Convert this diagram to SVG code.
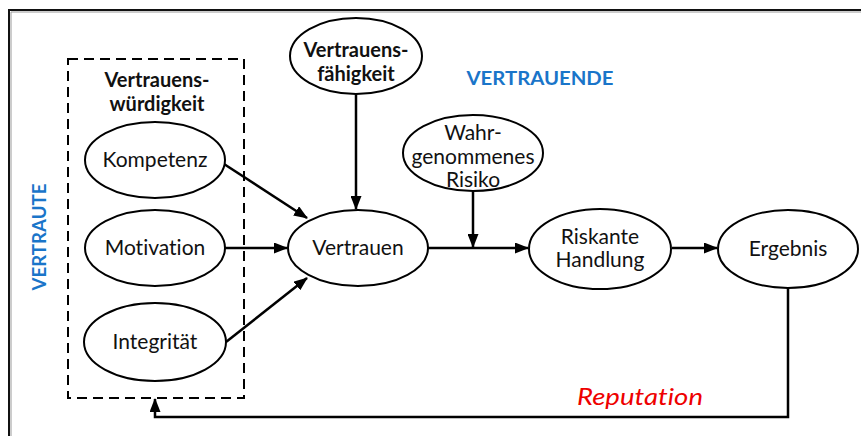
<svg xmlns="http://www.w3.org/2000/svg" width="861" height="436" viewBox="0 0 861 436">
<style>
text{font-variant-ligatures:none}
.n ellipse{fill:#fff;stroke:#000;stroke-width:2}
.t{font-family:Lato,"Open Sans",sans-serif;font-size:21px;fill:#111;text-anchor:middle}
.b{font-weight:700;font-size:20px}
.c line,.c path{stroke:#000;stroke-width:2.5;fill:none}
.lbl{font-family:Lato,"Open Sans",sans-serif;font-weight:700;font-size:18px;fill:#1a75c9;text-anchor:middle}
</style>
<defs>
<marker id="ah" viewBox="0 0 14 11" refX="13" refY="5.5" markerWidth="14" markerHeight="11" markerUnits="userSpaceOnUse" orient="auto">
<path d="M0,0 L14,5.5 L0,11 Z" fill="#000"/>
</marker>
</defs>
<rect width="861" height="436" fill="#fff"/>
<path d="M10,440 V11 H870" fill="none" stroke="#999" stroke-width="1" transform="translate(1,1)"/>
<path d="M9,440 V10 H870" fill="none" stroke="#111" stroke-width="2"/>
<rect id="box" x="68" y="59" width="176" height="339" fill="none" stroke="#000" stroke-width="2" stroke-dasharray="10,6"/>
<g class="c" id="connectors">
<line x1="224" y1="164" x2="307" y2="218" marker-end="url(#ah)"/>
<line x1="225" y1="248" x2="287" y2="248" marker-end="url(#ah)"/>
<line x1="226" y1="342" x2="307" y2="278" marker-end="url(#ah)"/>
<line x1="356" y1="93" x2="356" y2="209" marker-end="url(#ah)"/>
<line x1="428" y1="248" x2="528" y2="248" marker-end="url(#ah)"/>
<line x1="473" y1="192" x2="473" y2="247" marker-end="url(#ah)"/>
<line x1="672" y1="248" x2="717" y2="248" marker-end="url(#ah)"/>
<path d="M788,288 V417 H155 V399" marker-end="url(#ah)"/>
</g>
<g class="n" id="n-wuerdigkeit">
<text class="t b" x="157" y="87">Vertrauens-<tspan x="157" dy="24">würdigkeit</tspan></text>
</g>
<g class="n" id="n-kompetenz">
<ellipse cx="155" cy="160" rx="70" ry="38"/>
<text class="t" x="155" y="167">Kompetenz</text>
</g>
<g class="n" id="n-motivation">
<ellipse cx="155" cy="248" rx="70" ry="38"/>
<text class="t" x="155" y="255">Motivation</text>
</g>
<g class="n" id="n-integritaet">
<ellipse cx="155" cy="342" rx="71" ry="39"/>
<text class="t" x="155" y="349">Integrität</text>
</g>
<g class="n" id="n-vertrauen">
<ellipse cx="358" cy="248" rx="70" ry="38"/>
<text class="t" x="358" y="255">Vertrauen</text>
</g>
<g class="n" id="n-faehigkeit">
<ellipse cx="356" cy="56" rx="66" ry="38"/>
<text class="t b" x="356" y="57">Vertrauens-<tspan x="356" dy="24">fähigkeit</tspan></text>
</g>
<g class="n" id="n-risiko">
<ellipse cx="473" cy="153" rx="70" ry="38"/>
<text class="t" x="473" y="140">Wahr-<tspan x="473" dy="24">genommenes</tspan><tspan x="473" dy="23">Risiko</tspan></text>
</g>
<g class="n" id="n-handlung">
<ellipse cx="600" cy="249" rx="71" ry="40"/>
<text class="t" x="600" y="244">Riskante<tspan x="600" dy="23">Handlung</tspan></text>
</g>
<g class="n" id="n-ergebnis">
<ellipse cx="788" cy="249" rx="70" ry="39"/>
<text class="t" x="788" y="256">Ergebnis</text>
</g>
<text class="lbl" x="540" y="85" textLength="147" lengthAdjust="spacingAndGlyphs">VERTRAUENDE</text>
<text class="lbl" transform="translate(46,237) rotate(-90)" textLength="107" lengthAdjust="spacingAndGlyphs">VERTRAUTE</text>
<text x="640" y="405" font-family="Lato, Open Sans, sans-serif" font-style="italic" font-size="23" fill="#e00" text-anchor="middle" textLength="126" lengthAdjust="spacingAndGlyphs">Reputation</text>
</svg>
